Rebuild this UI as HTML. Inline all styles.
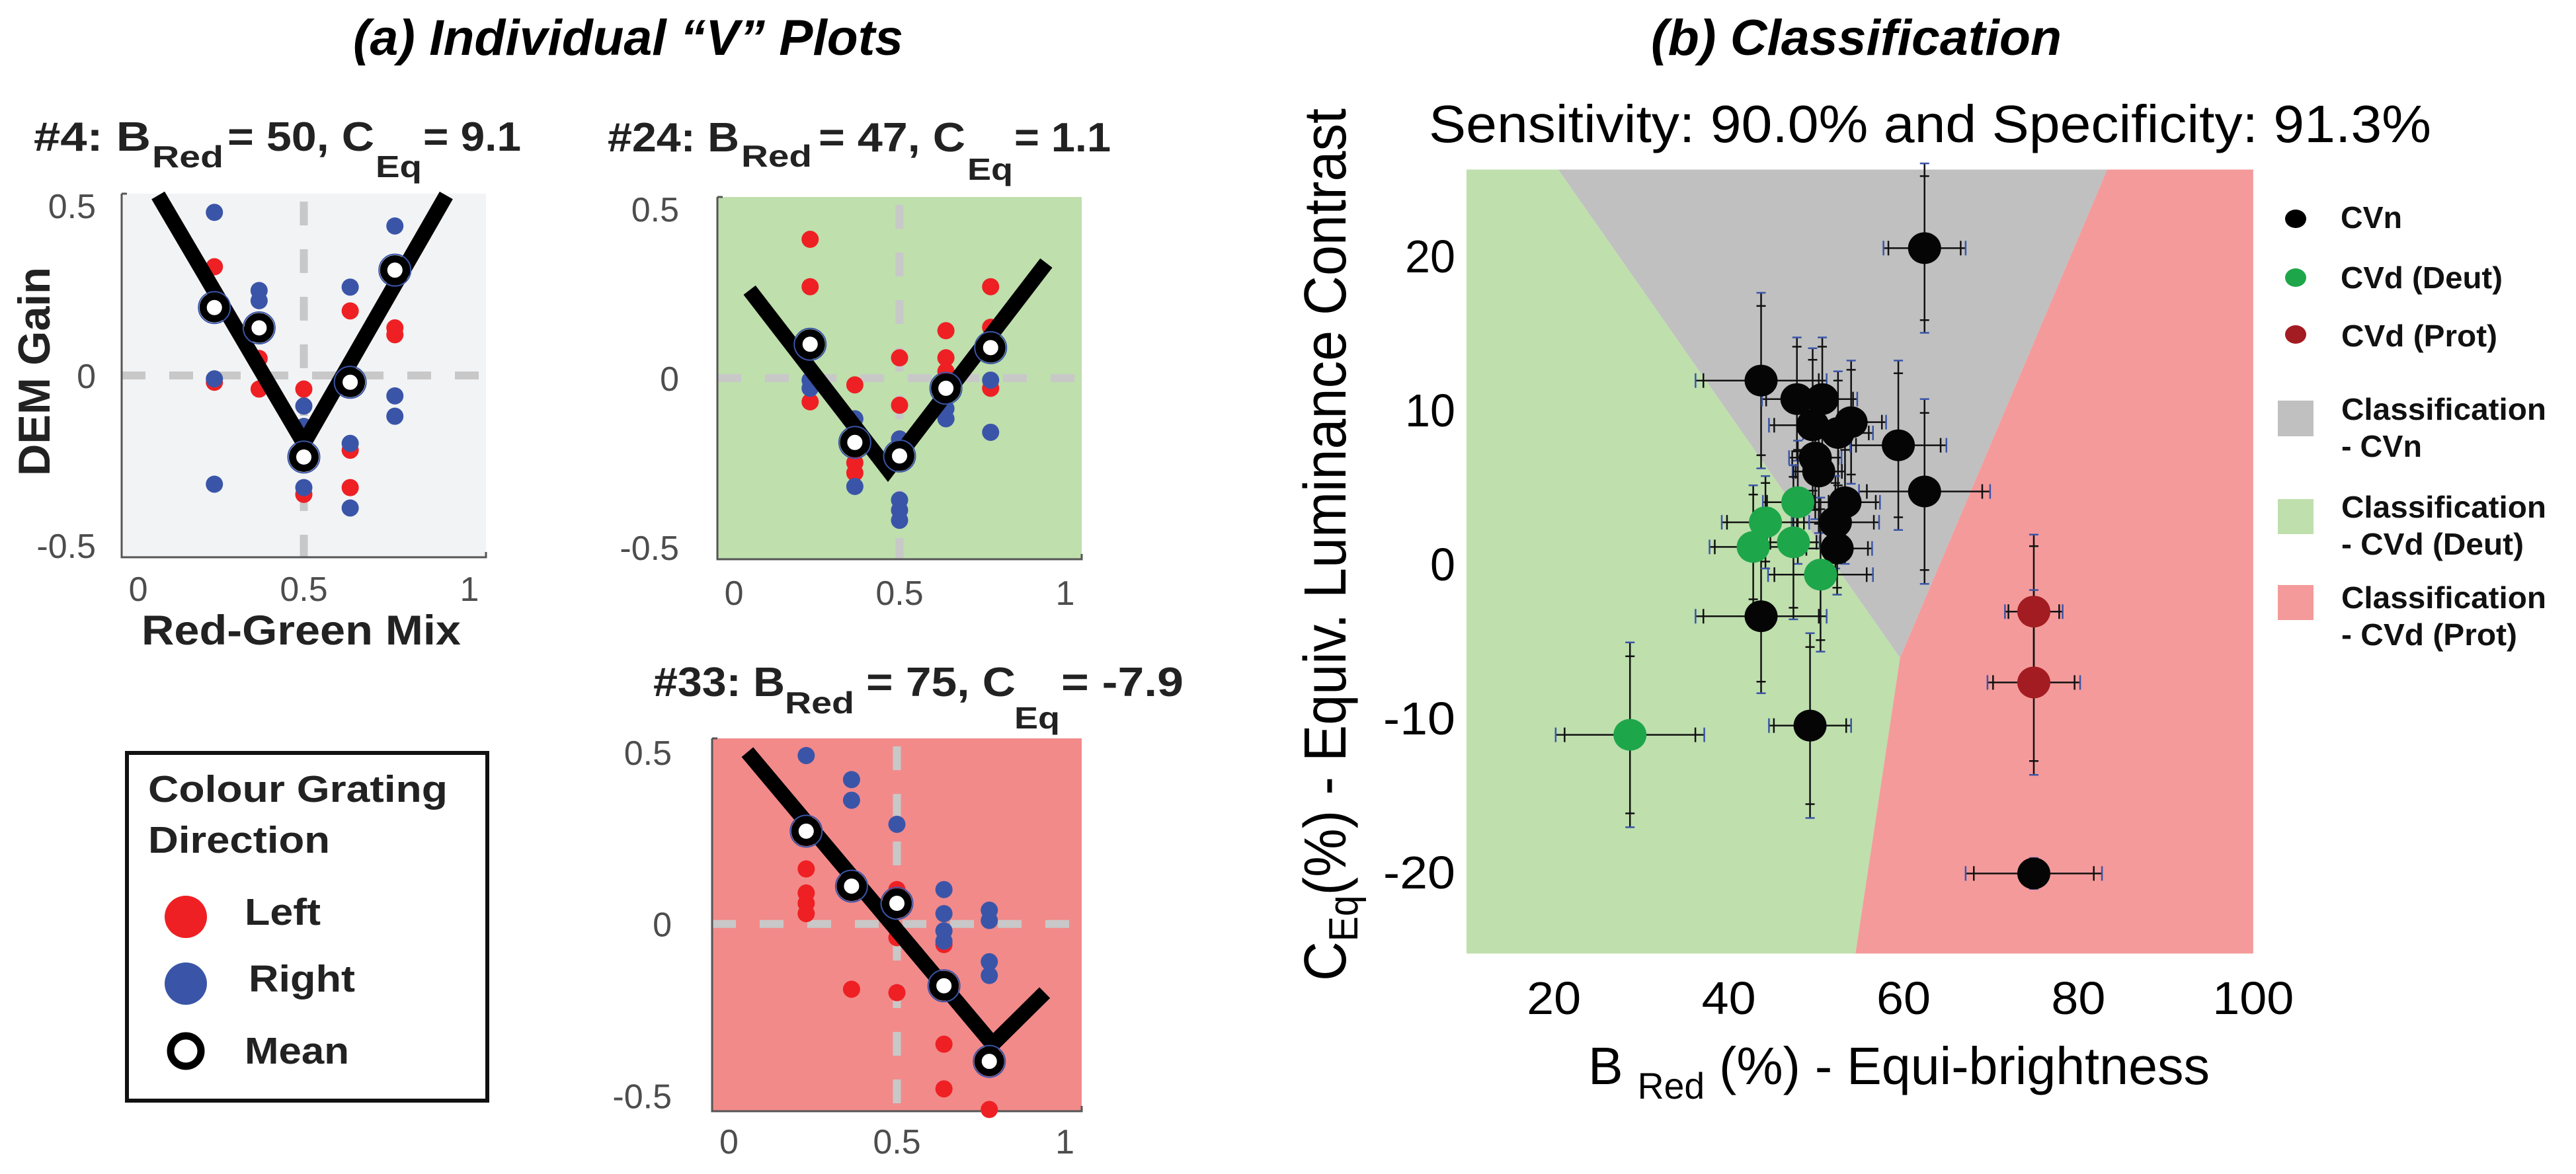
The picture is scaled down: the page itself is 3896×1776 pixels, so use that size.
<!DOCTYPE html>
<html><head><meta charset="utf-8"><style>
html,body{margin:0;padding:0;background:#fff;}
svg{display:block;font-family:"Liberation Sans",Arial,sans-serif;}
.b{font-weight:bold;}
</style></head><body>
<svg id="fig" width="3896" height="1776" viewBox="0 0 3896 1776" xmlns="http://www.w3.org/2000/svg">
<rect x="0" y="0" width="3896" height="1776" fill="#fff"/>
<text x="534" y="83" font-size="76" font-weight="bold" font-style="italic" textLength="832" lengthAdjust="spacingAndGlyphs">(a) Individual “V” Plots</text>
<text x="2497" y="83" font-size="76" font-weight="bold" font-style="italic" textLength="621" lengthAdjust="spacingAndGlyphs">(b) Classification</text>
<text x="2161" y="215" font-size="80" textLength="1516" lengthAdjust="spacingAndGlyphs">Sensitivity: 90.0% and Specificity: 91.3%</text>

<g fill="#222" font-weight="bold">
<text x="51" y="228" font-size="62" textLength="177" lengthAdjust="spacingAndGlyphs">#4: B</text>
<text x="230" y="253" font-size="46" textLength="108" lengthAdjust="spacingAndGlyphs">Red</text>
<text x="344" y="228" font-size="62" textLength="222" lengthAdjust="spacingAndGlyphs">= 50, C</text>
<text x="568" y="268" font-size="46" textLength="70" lengthAdjust="spacingAndGlyphs">Eq</text>
<text x="640" y="228" font-size="62" textLength="148" lengthAdjust="spacingAndGlyphs">= 9.1</text>
</g>
<g fill="#222" font-weight="bold">
<text x="919" y="229" font-size="62" textLength="199" lengthAdjust="spacingAndGlyphs">#24: B</text>
<text x="1121" y="252" font-size="46" textLength="107" lengthAdjust="spacingAndGlyphs">Red</text>
<text x="1238" y="229" font-size="62" textLength="222" lengthAdjust="spacingAndGlyphs">= 47, C</text>
<text x="1463" y="272" font-size="46" textLength="69" lengthAdjust="spacingAndGlyphs">Eq</text>
<text x="1534" y="229" font-size="62" textLength="146" lengthAdjust="spacingAndGlyphs">= 1.1</text>
</g>
<g fill="#222" font-weight="bold">
<text x="988" y="1053" font-size="62" textLength="199" lengthAdjust="spacingAndGlyphs">#33: B</text>
<text x="1187" y="1079" font-size="46" textLength="105" lengthAdjust="spacingAndGlyphs">Red</text>
<text x="1310" y="1053" font-size="62" textLength="226" lengthAdjust="spacingAndGlyphs">= 75, C</text>
<text x="1534" y="1102" font-size="46" textLength="69" lengthAdjust="spacingAndGlyphs">Eq</text>
<text x="1605" y="1053" font-size="62" textLength="185" lengthAdjust="spacingAndGlyphs">= -7.9</text>
</g>

<text x="214" y="975" font-size="63" font-weight="bold" fill="#222" textLength="483" lengthAdjust="spacingAndGlyphs">Red-Green Mix</text>
<text transform="translate(75,562) rotate(-90)" text-anchor="middle" font-size="68" font-weight="bold" fill="#222" textLength="316" lengthAdjust="spacingAndGlyphs">DEM Gain</text>

<g>
<rect x="192" y="1139" width="545" height="526" fill="#fff" stroke="#111" stroke-width="6"/>
<text x="224" y="1213" font-size="57" font-weight="bold" fill="#222" textLength="453" lengthAdjust="spacingAndGlyphs">Colour Grating</text>
<text x="224" y="1290" font-size="57" font-weight="bold" fill="#222" textLength="275" lengthAdjust="spacingAndGlyphs">Direction</text>
<circle cx="281" cy="1387" r="32" fill="#ee2024"/>
<text x="370" y="1399" font-size="57" font-weight="bold" fill="#222" textLength="115" lengthAdjust="spacingAndGlyphs">Left</text>
<circle cx="281" cy="1488" r="32" fill="#3a55a8"/>
<text x="376" y="1500" font-size="57" font-weight="bold" fill="#222" textLength="161" lengthAdjust="spacingAndGlyphs">Right</text>
<circle cx="281" cy="1590" r="23" fill="#fff" stroke="#000" stroke-width="11"/>
<text x="370" y="1609" font-size="57" font-weight="bold" fill="#222" textLength="158" lengthAdjust="spacingAndGlyphs">Mean</text>
</g>

<g id="vplots"></g>
<g id="classplot"></g>

<text transform="translate(2035,824) rotate(-90)" text-anchor="middle" font-size="90" textLength="1320" lengthAdjust="spacingAndGlyphs">C<tspan font-size="62" dy="18">Eq</tspan><tspan dy="-18">(%) - Equiv. Luminance Contrast</tspan></text>
<text x="2402" y="1640" font-size="80" textLength="940" lengthAdjust="spacingAndGlyphs">B <tspan font-size="56" dy="22">Red</tspan><tspan dy="-22"> (%) - Equi-brightness</tspan></text>

<g font-weight="bold" fill="#111">
<ellipse cx="3472" cy="331" rx="16" ry="14" fill="#000"/>
<text x="3540" y="345" font-size="46" textLength="93" lengthAdjust="spacingAndGlyphs">CVn</text>
<ellipse cx="3472" cy="420" rx="16" ry="14" fill="#1ea64a"/>
<text x="3540" y="436" font-size="46" textLength="245" lengthAdjust="spacingAndGlyphs">CVd (Deut)</text>
<ellipse cx="3472" cy="506" rx="16" ry="14" fill="#a31c22"/>
<text x="3541" y="524" font-size="46" textLength="236" lengthAdjust="spacingAndGlyphs">CVd (Prot)</text>
<rect x="3445" y="606" width="54" height="54" fill="#c0c0c0"/>
<text x="3541" y="635" font-size="46" textLength="310" lengthAdjust="spacingAndGlyphs">Classification</text>
<text x="3541" y="691" font-size="46" textLength="122" lengthAdjust="spacingAndGlyphs">- CVn</text>
<rect x="3445" y="755" width="54" height="53" fill="#bfdfad"/>
<text x="3541" y="783" font-size="46" textLength="310" lengthAdjust="spacingAndGlyphs">Classification</text>
<text x="3541" y="839" font-size="46" textLength="276" lengthAdjust="spacingAndGlyphs">- CVd (Deut)</text>
<rect x="3445" y="885" width="54" height="53" fill="#f49a9a"/>
<text x="3541" y="920" font-size="46" textLength="310" lengthAdjust="spacingAndGlyphs">Classification</text>
<text x="3541" y="976" font-size="46" textLength="266" lengthAdjust="spacingAndGlyphs">- CVd (Prot)</text>
</g>
</svg>
<script>
// ---------- V-plot data ----------
const mixLevels = [0.23, 0.365, 0.5, 0.64, 0.775];
const mixTicks = [0, 0.5, 1];
const mixTickLabels = ['0', '0.5', '1'];
const gainTicks = [0.5, 0, -0.5];
const gainTickLabels = ['0.5', '0', '-0.5'];

const p4Left = [[0.32,-0.02],[0.05,-0.04],[-0.04,-0.35],[0.19,-0.22,-0.33],[0.14,0.12]];
const p4Right = [[0.48,-0.01,-0.32],[0.25,0.22],[-0.09,-0.15,-0.33],[0.26,-0.20,-0.39],[0.44,-0.06,-0.12]];
const p4Mean = [0.20,0.14,-0.24,-0.02,0.31];
const p4FitX = [0.06,0.5,0.93];
const p4FitY = [0.53,-0.20,0.53];

const p24Left = [[0.41,0.27,-0.07],[-0.02,-0.25,-0.28],[0.06,-0.08,-0.18],[0.14,0.06,0.02],[0.27,0.15,-0.03]];
const p24Right = [[-0.006,-0.03],[-0.12,-0.32],[-0.18,-0.36,-0.39,-0.42],[-0.09,-0.12],[-0.006,-0.16]];
const p24Mean = [0.10,-0.19,-0.23,-0.03,0.09];
const p24FitX = [0.047,0.465,0.943];
const p24FitY = [0.26,-0.27,0.34];

const p33Left = [[0.16,0.09,0.06,0.03],[-0.19],[0.10,-0.04,-0.20],[-0.06,-0.35,-0.48],[-0.54]];
const p33Right = [[0.49],[0.42,0.36],[0.29],[0.10,0.03,-0.02,-0.05],[0.04,0.01,-0.11,-0.15]];
const p33Mean = [0.27,0.11,0.06,-0.18,-0.40];
const p33FitX = [0.055,0.785,0.94];
const p33FitY = [0.50,-0.35,-0.20];

// ---------- Classification data ----------
const cvnB = [62.4,43.7,47.8,50.7,49.6,54.0,52.5,59.4,49.9,50.3,62.4,53.3,52.2,52.4,43.7,49.3,74.9];
const cvnC = [20.5,11.9,10.7,10.7,9.0,9.2,8.5,7.7,6.9,6.0,4.7,4.0,2.7,1.0,-3.4,-10.5,-20.1];
const cvnBErr = [4.7,7.5,4,4,5,4,4,5.5,3,3,7.5,4,5,4,7.5,4.7,7.8];
const cvnCErr = [5.5,5.7,4,4,5,4,4,5.5,4,4,6,4,3,3,5,6,1];
const deutB = [44.2,47.9,42.8,47.4,50.5,28.7];
const deutC = [2.7,4.0,1.1,1.4,-0.7,-11.1];
const deutBErr = [5,4,5,3,6,8.5];
const deutCErr = [3,4,4,5,5,6];
const protB = [74.9,74.9];
const protC = [-3.1,-7.7];
const protBErr = [3.3,5.3];
const protCErr = [5,6];
const grayRegion = [[20.5,25.6],[83.3,25.6],[59.6,-6.1]];
const greenRegion = [[10,25.6],[20.5,25.6],[59.6,-6.1],[54.5,-25.3],[10,-25.3]];
const pinkRegion = [[83.3,25.6],[100,25.6],[100,-25.3],[54.5,-25.3],[59.6,-6.1]];
const bTicks = [20,40,60,80,100];
const bTickLabels = ['20','40','60','80','100'];
const cTicks = [20,10,0,-10,-20];
const cTickLabels = ['20','10','0','-10','-20'];

const NS = 'http://www.w3.org/2000/svg';
function mk(tag, attrs, parent){
  const e = document.createElementNS(NS, tag);
  for (const k in attrs) e.setAttribute(k, attrs[k]);
  parent.appendChild(e);
  return e;
}

const panels = [
  {id:'4', x0:184, x1:735, y0:293, y1:843, ymax:0.535, ymin:-0.535, bg:'#f2f3f5', left:p4Left, right:p4Right, mean:p4Mean, fx:p4FitX, fy:p4FitY, tickY:909, labX:145},
  {id:'24', x0:1085, x1:1636, y0:298, y1:846, ymax:0.535, ymin:-0.535, bg:'#bfdfad', left:p24Left, right:p24Right, mean:p24Mean, fx:p24FitX, fy:p24FitY, tickY:915, labX:1027},
  {id:'33', x0:1077, x1:1636, y0:1117, y1:1681, ymax:0.54, ymin:-0.545, bg:'#f28a8a', left:p33Left, right:p33Right, mean:p33Mean, fx:p33FitX, fy:p33FitY, tickY:1745, labX:1016}
];
const vroot = document.getElementById('vplots');
panels.forEach(p => {
  const xs = v => p.x0 + (v + 0.05) / 1.1 * (p.x1 - p.x0);
  const ys = v => p.y0 + (p.ymax - v) / (p.ymax - p.ymin) * (p.y1 - p.y0);
  const g = mk('g', {}, vroot);
  
  
  const bg = mk('rect', {x:p.x0, y:p.y0, width:p.x1-p.x0, height:p.y1-p.y0, fill:p.bg}, g);
  
  
  const dv = mk('line', {x1:xs(0.5), x2:xs(0.5), y1:p.y0+12, y2:p.y1, stroke:'#c8c8c8', 'stroke-width':12, 'stroke-dasharray':'36 36'}, g);
  
  
  const dh = mk('line', {x1:p.x0, x2:p.x1, y1:ys(0), y2:ys(0), stroke:'#c8c8c8', 'stroke-width':12, 'stroke-dasharray':'36 36'}, g);
  
  
  const ax = mk('path', {d:`M${p.x0},${p.y0} L${p.x0},${p.y1} L${p.x1},${p.y1} L${p.x1},${p.y1-8} M${p.x0},${p.y0} L${p.x0+8},${p.y0}`, fill:'none', stroke:'#555', 'stroke-width':3}, g);
  
  
  mixTicks.forEach((t, i) => {
    const tl = mk('text', {x:xs(t), y:p.tickY, 'text-anchor':'middle', 'font-size':52, fill:'#4d4d4d'}, g);
    tl.textContent = mixTickLabels[i];
    
    
  });
  gainTicks.forEach((t, i) => {
    const tl = mk('text', {x:p.labX, y:ys(t)+19, 'text-anchor':'end', 'font-size':52, fill:'#4d4d4d'}, g);
    tl.textContent = gainTickLabels[i];
    
    
  });
  p.left.forEach((col, i) => col.forEach(v => {
    const c = mk('circle', {cx:xs(mixLevels[i]), cy:ys(v), r:13, fill:'#ee2024'}, g);
    
    
  }));
  p.right.forEach((col, i) => col.forEach(v => {
    const c = mk('circle', {cx:xs(mixLevels[i]), cy:ys(v), r:13, fill:'#3a55a8'}, g);
    
    
  }));
  const pts = p.fx.map((x, i) => xs(x) + ',' + ys(p.fy[i])).join(' ');
  const fit = mk('polyline', {points:pts, fill:'none', stroke:'#000', 'stroke-width':23, 'stroke-linejoin':'miter'}, g);
  
  
  p.mean.forEach((v, i) => {
    const o = mk('circle', {cx:xs(mixLevels[i]), cy:ys(v), r:24, fill:'none', stroke:'#3a55a8', 'stroke-width':2}, g);
    
    
    const c = mk('circle', {cx:xs(mixLevels[i]), cy:ys(v), r:17, fill:'#fff', stroke:'#000', 'stroke-width':11}, g);
    
    
  });
});

// ---------- classification plot ----------
const croot = document.getElementById('classplot');
const bx = v => 2218 + (v - 10) * 13.22;
const cy = v => 853 - 23.3 * v;
function region(verts, fill, name){
  const pg = mk('polygon', {points:verts.map(q => bx(q[0]) + ',' + cy(q[1])).join(' '), fill:fill}, croot);
  
  
}
region(greenRegion, '#bfdfad', 'region-deut');
region(grayRegion, '#c0c0c0', 'region-cvn');
region(pinkRegion, '#f49a9a', 'region-prot');

function bars(B, C, BE, CE){
  B.forEach((b, i) => {
    const x = bx(b), y = cy(C[i]);
    const xl = bx(b - BE[i]), xr = bx(b + BE[i]);
    const yt = cy(C[i] + CE[i]), yb = cy(C[i] - CE[i]);
    const gb = mk('g', {}, croot);
    
    
    mk('line', {x1:xl, x2:xr, y1:y, y2:y, stroke:'#111', 'stroke-width':2.5}, gb);
    mk('line', {x1:x, x2:x, y1:yt, y2:yb, stroke:'#111', 'stroke-width':2.5}, gb);
    const yt2 = cy(C[i] + CE[i]*0.85), yb2 = cy(C[i] - CE[i]*0.85);
    const xl2 = bx(b - BE[i]*0.88), xr2 = bx(b + BE[i]*0.88);
    [[xl,'#3a55a8'],[xr,'#3a55a8'],[xl2,'#111'],[xr2,'#111']].forEach(q => mk('line', {x1:q[0], x2:q[0], y1:y-11, y2:y+11, stroke:q[1], 'stroke-width':2.5}, gb));
    [[yt,'#3a55a8'],[yb,'#3a55a8'],[yt2,'#111'],[yb2,'#111']].forEach(q => mk('line', {x1:x-7, x2:x+7, y1:q[0], y2:q[0], stroke:q[1], 'stroke-width':2.5}, gb));
  });
}
bars(cvnB, cvnC, cvnBErr, cvnCErr);
bars(deutB, deutC, deutBErr, deutCErr);
bars(protB, protC, protBErr, protCErr);
function dots(B, C, fill, name){
  B.forEach((b, i) => {
    const d = mk('ellipse', {cx:bx(b), cy:cy(C[i]), rx:25, ry:24, fill:fill}, croot);
    
    
  });
}
dots(cvnB, cvnC, '#050505', 'cvn-point');
dots(deutB, deutC, '#1ea64a', 'deut-point');
dots(protB, protC, '#a31c22', 'prot-point');

bTicks.forEach((t, i) => {
  const tl = mk('text', {x:bx(t), y:1534, 'text-anchor':'middle', 'font-size':70, textLength: bTickLabels[i].length * 41, lengthAdjust:'spacingAndGlyphs'}, croot);
  tl.textContent = bTickLabels[i];
  
  
});
cTicks.forEach((t, i) => {
  const tl = mk('text', {x:2201, y:cy(t)+25, 'text-anchor':'end', 'font-size':70, textLength: cTickLabels[i].length * 38 + (cTickLabels[i][0]==='-'?-5:0), lengthAdjust:'spacingAndGlyphs'}, croot);
  tl.textContent = cTickLabels[i];
  
  
});
</script>
</body></html>
